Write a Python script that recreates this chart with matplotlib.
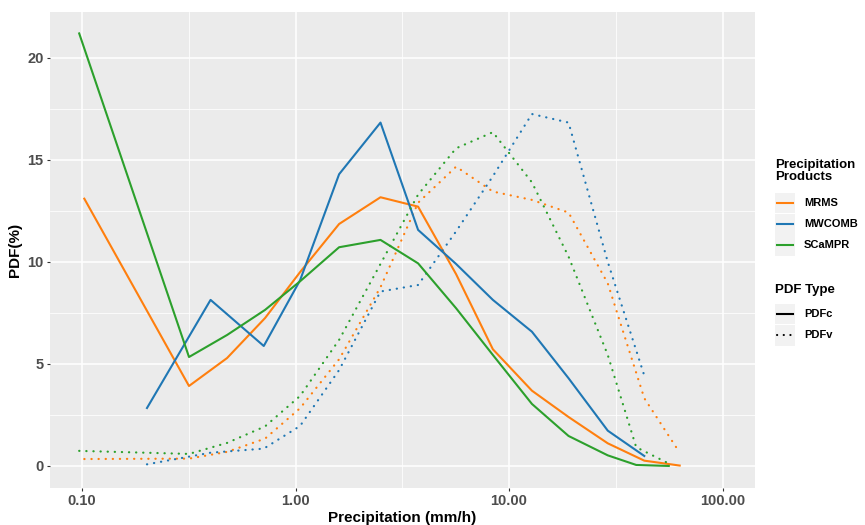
import matplotlib
matplotlib.use("Agg")
import matplotlib.pyplot as plt
from matplotlib.lines import Line2D
from matplotlib.patches import Rectangle
from matplotlib.ticker import NullFormatter

plt.rcParams["font.family"] = ["Liberation Sans", "DejaVu Sans"]

# ── data ───────────────────────────────────────────────────
PRODUCTS = ["MRMS", "MWCOMB", "SCaMPR"]

MRMS_X = [0.1025, 0.317, 0.478, 0.72, 1.05, 1.6, 2.5, 3.75, 5.65, 8.4, 12.8, 19, 29, 43, 63]
MRMS_PDFC = [13.1, 3.92, 5.29, 7.25, 9.5, 11.86, 13.17, 12.71, 9.4, 5.72, 3.69, 2.4, 1.11, 0.26, 0.02]
MRMS_PDFV = [0.34, 0.36, 0.69, 1.34, 2.83, 5.23, 8.76, 12.9, 14.67, 13.45, 13.04, 12.42, 8.95, 3.32, 0.65]

MWCOMB_X = [0.2015, 0.40, 0.71, 1.05, 1.6, 2.5, 3.75, 5.65, 8.4, 12.8, 19, 29, 43]
MWCOMB_PDFC = [2.84, 8.14, 5.88, 9.1, 14.3, 16.83, 11.57, 9.9, 8.14, 6.58, 4.3, 1.73, 0.49]
MWCOMB_PDFV = [0.08, 0.65, 0.85, 1.96, 4.7, 8.55, 8.87, 11.5, 14.2, 17.25, 16.83, 10.0, 4.43]

SCAMPR_X = [0.097, 0.317, 0.478, 0.72, 1.05, 1.6, 2.5, 3.75, 5.65, 8.4, 12.8, 19, 29, 39.4, 56]
SCAMPR_PDFC = [21.2, 5.34, 6.42, 7.65, 9.05, 10.72, 11.08, 9.93, 7.73, 5.44, 3.04, 1.47, 0.52, 0.05, 0.0]
SCAMPR_PDFV = [0.74, 0.59, 1.13, 1.94, 3.43, 6.18, 9.9, 13.3, 15.57, 16.36, 13.9, 10.26, 5.44, 0.92, 0.12]

X_TICKS = [0.1, 1, 10, 100]
X_TICK_LABELS = ["0.10", "1.00", "10.00", "100.00"]
Y_TICKS = [0, 5, 10, 15, 20]
Y_TICK_LABELS = ["0", "5", "10", "15", "20"]

COLORS = ["#FF7F0E", "#1F77B4", "#2CA02C"]
DOTTED = (0, (0.1, 3.1))

W, H = 865, 525


def fx(x):
    return x / W


def fy(y):
    return 1 - y / H


fig = plt.figure(figsize=(W / 100, H / 100), dpi=100)
ax = fig.add_axes([fx(50), fy(488), (755 - 50) / W, (488 - 12) / H])
ax.set_facecolor("#EBEBEB")
for s in ax.spines.values():
    s.set_visible(False)

series = [
    (MRMS_X, MRMS_PDFC, MRMS_PDFV),
    (MWCOMB_X, MWCOMB_PDFC, MWCOMB_PDFV),
    (SCAMPR_X, SCAMPR_PDFC, SCAMPR_PDFV),
]
for (x, c, v), col in zip(series, COLORS):
    ax.plot(x, c, color=col, lw=1.5, solid_joinstyle="round")
    ax.plot(x, v, color=col, lw=1.6, linestyle=DOTTED, dash_capstyle="round")

ax.set_xscale("log")
ax.set_xlim(0.0708, 141.9)
ax.set_ylim(-1.08, 22.25)

tick_font = dict(fontsize=10.5, fontweight="bold", color="#4D4D4D")
ax.set_xticks(X_TICKS, X_TICK_LABELS, **tick_font)
ax.set_xticks([10 ** -0.5, 10 ** 0.5, 10 ** 1.5], minor=True)
ax.xaxis.set_minor_formatter(NullFormatter())
ax.set_yticks(Y_TICKS, Y_TICK_LABELS, **tick_font)
ax.set_yticks([2.5, 7.5, 12.5, 17.5], minor=True)

ax.grid(which="major", color="white", lw=1.1)
ax.grid(which="minor", color="white", lw=0.55)
ax.set_axisbelow(True)
ax.tick_params(which="major", length=2.5, width=0.8, color="#333333", pad=2)
ax.tick_params(which="minor", length=0)

ax.set_xlabel("Precipitation (mm/h)", fontsize=11, fontweight="bold", labelpad=2)
ax.set_ylabel("PDF(%)", fontsize=11, fontweight="bold", labelpad=4)

# ── legend (drawn by hand, ggplot style) ──
KEY_BG = "#F2F2F2"
fig.text(fx(775), fy(171), "Precipitation\nProducts", fontsize=9.5, fontweight="bold",
         va="center", ha="left", linespacing=1.0)
for i, (name, col) in enumerate(zip(PRODUCTS, COLORS)):
    yc = 203 + i * 21.2
    fig.add_artist(Rectangle((fx(775), fy(yc + 10.3)), 20 / W, 20.6 / H,
                             transform=fig.transFigure, color=KEY_BG, lw=0))
    fig.add_artist(Line2D([fx(777), fx(793)], [fy(yc)] * 2, color=col, lw=1.5,
                          transform=fig.transFigure))
    fig.text(fx(804), fy(yc), name, fontsize=8, fontweight="bold", va="center", ha="left")

fig.text(fx(775), fy(290), "PDF Type", fontsize=9.5, fontweight="bold", va="center", ha="left")
for i, (name, ls) in enumerate([("PDFc", "-"), ("PDFv", DOTTED)]):
    yc = 314 + i * 21.2
    fig.add_artist(Rectangle((fx(775), fy(yc + 10.3)), 20 / W, 20.6 / H,
                             transform=fig.transFigure, color=KEY_BG, lw=0))
    fig.add_artist(Line2D([fx(777), fx(793)], [fy(yc)] * 2, color="black", lw=1.5,
                          linestyle=ls, dash_capstyle="round", transform=fig.transFigure))
    fig.text(fx(804), fy(yc), name, fontsize=8, fontweight="bold", va="center", ha="left")

fig.savefig("out.png", dpi=100)
